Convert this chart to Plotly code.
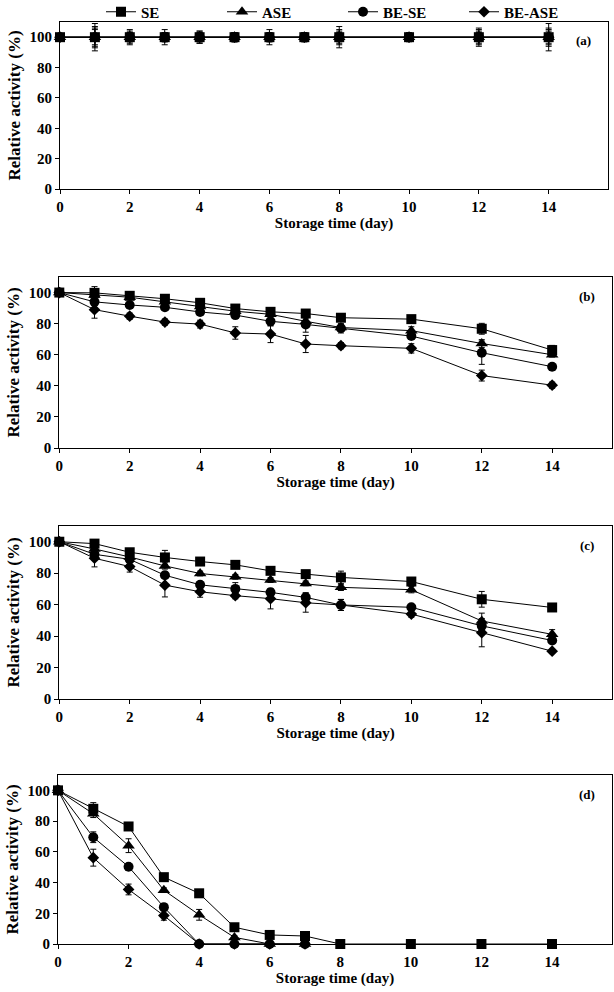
import plotly.graph_objects as go

# ---------------- data ----------------
days = [0, 1, 2, 3, 4, 5, 6, 7, 8, 10, 12, 14]
days_short = [0, 1, 2, 3, 4, 5, 6, 7]
series_names = ["SE", "ASE", "BE-SE", "BE-ASE"]
x_ticks = [0, 2, 4, 6, 8, 10, 12, 14]
y_ticks = [0, 20, 40, 60, 80, 100]

# panel (a)
a_SE = [100, 100, 100, 100, 100, 100, 100, 100, 100, 100, 100, 100]
a_ASE = [100, 100, 100, 100, 100, 100, 100, 100, 100, 100, 100, 100]
a_BESE = [100, 100, 100, 100, 100, 100, 100, 100, 100, 100, 100, 100]
a_BEASE = [100, 100, 100, 100, 100, 100, 100, 100, 100, 100, 100, 100]
a_err_SE = [0, 9, 5, 5, 4, 3, 5, 3, 7, 3, 6, 9]
a_err_ASE = [0, 7, 4, 3, 3, 3, 3, 3, 5, 2, 5, 6]
a_err_BESE = [0, 6, 3, 3, 4, 3, 3, 2, 4, 2, 4, 5]
a_err_BEASE = [0, 5, 3, 2, 3, 2, 2, 2, 3, 2, 3, 4]

# panel (b)
b_SE = [100, 99.8, 97.9, 96, 93.4, 89.7, 87.6, 86.5, 83.8, 82.9, 76.7, 63]
b_ASE = [100, 98.5, 97, 94, 91, 88, 86, 81.5, 77.5, 75.5, 67.2, 60]
b_BESE = [100, 94, 92, 90.5, 87.5, 85.5, 81.5, 79.5, 77, 72, 61.3, 52.3]
b_BEASE = [100, 89, 84.8, 81, 79.7, 74, 73.3, 66.9, 65.8, 64.1, 46.6, 40.4]
b_err_SE = [0, 4, 1.5, 1.5, 2.5, 2, 1.5, 1.5, 1.5, 1.5, 3.5, 3]
b_err_ASE = [0, 1, 1, 1, 1.5, 1.5, 1.5, 2, 2, 2.5, 2.5, 1.5]
b_err_BESE = [0, 2, 1.5, 1.5, 2, 1.5, 3, 5, 3, 2, 7.5, 1.5]
b_err_BEASE = [0, 5.5, 2, 2, 2.5, 4, 5.5, 5.5, 2, 3, 3.5, 2]

# panel (c)
c_SE = [100, 98.8, 93.3, 90, 87.4, 85.3, 81.5, 79.4, 77.3, 74.7, 63.4, 58.2]
c_ASE = [100, 95.4, 90.3, 84.6, 79.8, 77.7, 75.6, 73.5, 71, 69.5, 49.6, 41.1]
c_BESE = [100, 92, 88.8, 78.7, 72.6, 70, 67.8, 64.6, 59.8, 58.3, 46.5, 37.2]
c_BEASE = [100, 89.5, 84.2, 72.4, 68.2, 65.7, 63.8, 61.2, 59.8, 54, 42.2, 30.4]
c_err_SE = [0, 1, 1.5, 4.5, 1.5, 1.5, 2, 1.5, 4, 1.5, 5, 1.5]
c_err_ASE = [0, 1.5, 1.5, 2, 1.5, 1.5, 1.5, 1.5, 2, 2, 5, 3]
c_err_BESE = [0, 2, 2, 2, 2, 4, 2, 3, 3.5, 1.5, 3, 2]
c_err_BEASE = [0, 5.5, 3.5, 7.5, 3.5, 2, 6.5, 6, 3.5, 2, 9, 1]

# panel (d)
d_SE = [100, 88, 76.5, 43.5, 33, 10.9, 5.9, 5.2, 0, 0, 0, 0]
d_ASE = [100, 84.8, 64, 35, 19, 4.3, 0, 0]
d_BESE = [100, 69.5, 50.3, 24, 0, 0, 0, 0]
d_BEASE = [100, 56.2, 35.5, 18.5, 0, 0, 0, 0]
d_err_SE = [0, 4, 1, 1.5, 1.5, 1.5, 1, 1, 0, 0, 0, 0]
d_err_ASE = [0, 2.5, 4.5, 1.5, 3.5, 1, 0, 0]
d_err_BESE = [0, 3.5, 1, 2, 0, 0, 0, 0]
d_err_BEASE = [0, 5.5, 3.5, 3, 0, 0, 0, 0]

panel_labels = ["(a)", "(b)", "(c)", "(d)"]

panels = [
    {"x": [days, days, days, days],
     "y": [a_SE, a_ASE, a_BESE, a_BEASE],
     "e": [a_err_SE, a_err_ASE, a_err_BESE, a_err_BEASE]},
    {"x": [days, days, days, days],
     "y": [b_SE, b_ASE, b_BESE, b_BEASE],
     "e": [b_err_SE, b_err_ASE, b_err_BESE, b_err_BEASE]},
    {"x": [days, days, days, days],
     "y": [c_SE, c_ASE, c_BESE, c_BEASE],
     "e": [c_err_SE, c_err_ASE, c_err_BESE, c_err_BEASE]},
    {"x": [days, days_short, days_short, days_short],
     "y": [d_SE, d_ASE, d_BESE, d_BEASE],
     "e": [d_err_SE, d_err_ASE, d_err_BESE, d_err_BEASE]},
]

# ---------------- style ----------------
W, H = 614, 992
FONT = "Liberation Serif"
symbols = ["square", "triangle-up", "circle", "diamond"]
sizes = [10, 11, 10, 9]

# plot-area pixel boxes (left, right, top, bottom)
boxes = [(60, 608, 22, 189), (59.3, 612, 277, 448), (59.3, 612, 526, 699), (58, 612, 775, 944)]

fig = go.Figure()

# draw SE last so its markers sit on top
draw_order = [3, 2, 1, 0]
for p, panel in enumerate(panels):
    ax = "" if p == 0 else str(p + 1)
    for s in draw_order:
        fig.add_trace(go.Scatter(
            x=panel["x"][s], y=panel["y"][s],
            mode="lines+markers",
            name=series_names[s],
            legendgroup=series_names[s],
            legendrank=s + 1,
            showlegend=(p == 0),
            line=dict(color="black", width=1),
            marker=dict(symbol=symbols[s], size=sizes[s], color="black"),
            error_y=dict(type="data", array=panel["e"][s], visible=True,
                         color="black", thickness=1, width=3),
            cliponaxis=False,
            xaxis="x" + ax, yaxis="y" + ax,
        ))

layout = dict(
    width=W, height=H,
    margin=dict(l=0, r=0, t=0, b=0, autoexpand=False),
    paper_bgcolor="white", plot_bgcolor="white",
    font=dict(family=FONT, size=14, color="black"),
    showlegend=True,
    legend=dict(orientation="h", x=101 / W, xanchor="left",
                y=1 - 12 / H, yanchor="middle",
                font=dict(family=FONT, size=15, color="black", weight="bold"),
                entrywidth=76, entrywidthmode="pixels",
                itemwidth=30, bgcolor="rgba(0,0,0,0)"),
    annotations=[],
)

for p in range(4):
    l, r, t, b = boxes[p]
    ax = "" if p == 0 else str(p + 1)
    layout["xaxis" + ax] = dict(
        domain=[l / W, r / W], range=[0, 15.7],
        anchor="y" + ax, automargin=False,
        tickmode="array", tickvals=x_ticks, ticktext=[str(v) for v in x_ticks],
        ticks="outside", ticklen=4, tickcolor="black",
        showline=True, linecolor="black", linewidth=1, mirror=True,
        showgrid=False, zeroline=False,
        tickfont=dict(family=FONT, size=15, color="black", weight="bold"),
        title=dict(text="Storage time (day)", standoff=1,
                   font=dict(family=FONT, size=15, color="black", weight="bold")),
    )
    layout["yaxis" + ax] = dict(
        domain=[1 - b / H, 1 - t / H], range=[0, 110],
        anchor="x" + ax, automargin=False,
        tickmode="array", tickvals=y_ticks, ticktext=[str(v) for v in y_ticks],
        ticks="outside", ticklen=4, tickcolor="black",
        showline=True, linecolor="black", linewidth=1, mirror=True,
        showgrid=False, zeroline=False,
        tickfont=dict(family=FONT, size=15, color="black", weight="bold"),
        title=dict(text="Relative activity (%)", standoff=4,
                   font=dict(family=FONT, size=17, color="black", weight="bold")),
    )
    layout["annotations"].append(dict(
        x=15.0, y=97.5, xref="x" + ax, yref="y" + ax,
        text="<b>" + panel_labels[p] + "</b>", showarrow=False,
        font=dict(family=FONT, size=13, color="black"),
    ))

fig.update_layout(**layout)
fig.write_html("out.html",
               config={"displayModeBar": False},
               post_script="document.body.style.margin='0';document.body.style.overflow='hidden';")
